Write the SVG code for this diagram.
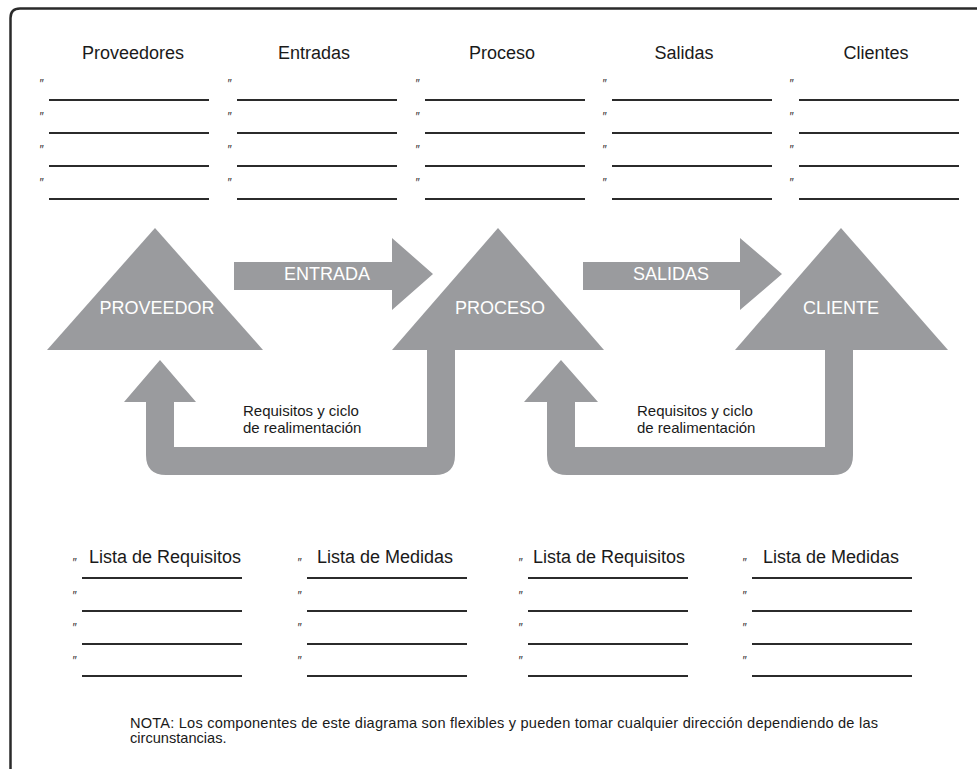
<svg xmlns="http://www.w3.org/2000/svg" width="977" height="769" viewBox="0 0 977 769">
<style>
.hdr{font-family:"Liberation Sans",Arial,sans-serif;font-size:18px;fill:#1a1a1a;text-anchor:middle}
.lbl{font-family:"Liberation Sans",Arial,sans-serif;font-size:18px;fill:#ffffff;text-anchor:middle}
.fb{font-family:"Liberation Sans",Arial,sans-serif;font-size:15px;fill:#1a1a1a}
.note{font-family:"Liberation Sans",Arial,sans-serif;font-size:14.6px;fill:#1a1a1a}
.q{font-family:"Liberation Sans",Arial,sans-serif;font-size:12px;font-style:italic;fill:#333}
.ln{stroke:#2b2b2b;stroke-width:2;fill:none}
.shape{fill:#9a9b9e}
</style>
<defs>
<g id="col4">
<text class="q" x="-10" y="-12">″</text><line class="ln" x1="0" y1="0" x2="160" y2="0"/>
<text class="q" x="-10" y="21">″</text><line class="ln" x1="0" y1="33" x2="160" y2="33"/>
<text class="q" x="-10" y="54">″</text><line class="ln" x1="0" y1="66" x2="160" y2="66"/>
<text class="q" x="-10" y="87">″</text><line class="ln" x1="0" y1="99" x2="160" y2="99"/>
</g>
<g id="colB">
<text class="q" x="-10" y="-11">″</text><line class="ln" x1="0" y1="0" x2="160" y2="0"/>
<text class="q" x="-10" y="22">″</text><line class="ln" x1="0" y1="33" x2="160" y2="33"/>
<text class="q" x="-10" y="54">″</text><line class="ln" x1="0" y1="66" x2="160" y2="66"/>
<text class="q" x="-10" y="87">″</text><line class="ln" x1="0" y1="98" x2="160" y2="98"/>
</g>
</defs>
<rect width="977" height="769" fill="#ffffff"/>
<path d="M10.5,769 V18 Q10.5,8.5 20,8.5 H977" fill="none" stroke="#2a2a2a" stroke-width="2.5"/>

<g id="top-lists">
<g id="col-proveedores"><text class="hdr" x="133" y="59">Proveedores</text><use href="#col4" x="49" y="100"/></g>
<g id="col-entradas"><text class="hdr" x="314" y="59">Entradas</text><use href="#col4" x="237" y="100"/></g>
<g id="col-proceso"><text class="hdr" x="502" y="59">Proceso</text><use href="#col4" x="425" y="100"/></g>
<g id="col-salidas"><text class="hdr" x="684" y="59">Salidas</text><use href="#col4" x="612" y="100"/></g>
<g id="col-clientes"><text class="hdr" x="876" y="59">Clientes</text><use href="#col4" x="799" y="100"/></g>
</g>

<g id="connectors">
<path class="shape" d="M234,262 H392 V238 L433,274 L392,310 V290 H234 Z"/>
<text class="lbl" x="327" y="280">ENTRADA</text>
<path class="shape" d="M583,262 H740 V238 L782,274 L740,310 V290 H583 Z"/>
<text class="lbl" x="671" y="280">SALIDAS</text>
<path class="shape" d="M455,345 V455 Q455,475 435,475 H166 Q146,475 146,455 V402 H124 L160,360 L196,402 H174 V447 H427 V345 Z"/>
<path class="shape" d="M853,345 V455 Q853,475 833,475 H567 Q547,475 547,455 V402 H524 L561,360 L598,402 H575 V447 H825 V345 Z"/>
<text class="fb" x="243" y="416">Requisitos y ciclo</text>
<text class="fb" x="243" y="433">de realimentación</text>
<text class="fb" x="637" y="416">Requisitos y ciclo</text>
<text class="fb" x="637" y="433">de realimentación</text>
</g>

<g id="proveedor"><path class="shape" d="M155,228 L263,350 H47 Z"/><text class="lbl" x="157" y="314">PROVEEDOR</text></g>
<g id="proceso"><path class="shape" d="M498,228 L604,350 H392 Z"/><text class="lbl" x="500" y="314">PROCESO</text></g>
<g id="cliente"><path class="shape" d="M841,228 L948,350 H735 Z"/><text class="lbl" x="841" y="314">CLIENTE</text></g>

<g id="bottom-lists">
<g id="lista-req-1"><text class="hdr" x="165" y="563">Lista de Requisitos</text><use href="#colB" x="82" y="578"/></g>
<g id="lista-med-1"><text class="hdr" x="385" y="563">Lista de Medidas</text><use href="#colB" x="307" y="578"/></g>
<g id="lista-req-2"><text class="hdr" x="609" y="563">Lista de Requisitos</text><use href="#colB" x="528" y="578"/></g>
<g id="lista-med-2"><text class="hdr" x="831" y="563">Lista de Medidas</text><use href="#colB" x="752" y="578"/></g>
</g>

<g id="nota">
<text class="note" x="130" y="728" textLength="748" lengthAdjust="spacing">NOTA: Los componentes de este diagrama son flexibles y pueden tomar cualquier dirección dependiendo de las</text>
<text class="note" x="130" y="743">circunstancias.</text>
</g>
</svg>
